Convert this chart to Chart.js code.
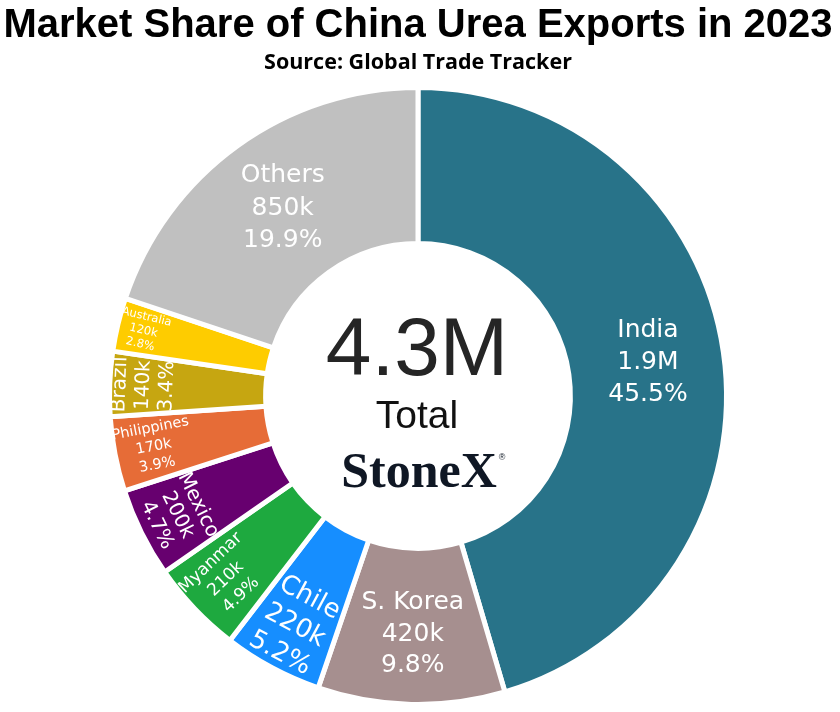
<!DOCTYPE html>
<html><head><meta charset="utf-8">
<script src="https://cdn.jsdelivr.net/npm/chart.js@4/dist/chart.umd.min.js"></script>
<style>html,body{margin:0;padding:0;background:#fff;overflow:hidden}#wrap{width:840px;height:712px;position:relative}</style>
</head><body><div id="wrap"><canvas id="c" width="840" height="712"></canvas></div>
<script>
// ---- data ----
const categories = ['India','S. Korea','Chile','Myanmar','Mexico','Philippines','Brazil','Australia','Others'];
const sharePct = [45.5, 9.8, 5.2, 4.9, 4.7, 3.9, 3.4, 2.8, 19.9];
const volumeLabels = ['1.9M','420k','220k','210k','200k','170k','140k','120k','850k'];
const totalLabel = '4.3M';
const totalCaption = 'Total';
const brandText = 'StoneX';
const titleText = 'Market Share of China Urea Exports in 2023';
const subtitleText = 'Source: Global Trade Tracker';

// ---- styles ----
const sliceColors = ['#287389','#a68f8f','#168eff','#1ea93f','#67006f','#e66c37','#c6a611','#fecc00','#c0c0c0'];
// size: font px, gap: line spacing px, rf: label radius fraction of outer radius, rot: rotation mode
const labelStyle = [
  {size:25, gap:32, rf:0.753, rot:'none'},
  {size:25, gap:31.5, rf:0.772, rot:'none'},
  {size:26, gap:31.5, rf:0.845, rot:'in'},
  {size:17, gap:22, rf:0.86, rot:'radial'},
  {size:20, gap:23, rf:0.87, rot:'in'},
  {size:14.5, gap:18.5, rf:0.872, rot:'radial'},
  {size:20, gap:23.5, rf:0.89, rot:'out'},
  {size:11.5, gap:14, rf:0.915, rot:'radial'},
  {size:25, gap:32.5, rf:0.75, rot:'none'}
];

const sliceLabels = {
  id:'sliceLabels',
  afterDatasetsDraw(chart){
    const ctx = chart.ctx;
    const meta = chart.getDatasetMeta(0);
    meta.data.forEach((arc, i) => {
      const p = arc.getProps(['x','y','startAngle','endAngle','outerRadius'], true);
      const mid = (p.startAngle + p.endAngle) / 2;
      const st = labelStyle[i];
      const r = p.outerRadius * st.rf;
      const px = p.x + Math.cos(mid) * r;
      const py = p.y + Math.sin(mid) * r;
      const theta = mid + Math.PI / 2;
      let rot = 0;
      if (st.rot === 'in') rot = theta - Math.PI;
      else if (st.rot === 'radial') rot = theta - 1.5 * Math.PI;
      else if (st.rot === 'out') rot = theta;
      const lines = [categories[i], volumeLabels[i], sharePct[i].toFixed(1) + '%'];
      ctx.save();
      ctx.translate(px, py);
      ctx.rotate(rot);
      ctx.fillStyle = '#ffffff';
      ctx.textAlign = 'center';
      ctx.textBaseline = 'middle';
      ctx.font = st.size + 'px "DejaVu Sans"';
      lines.forEach((t, k) => ctx.fillText(t, 0, (k - 1) * st.gap));
      ctx.restore();
    });
  }
};

const centerText = {
  id:'centerText',
  afterDraw(chart){
    const ctx = chart.ctx;
    const a = chart.chartArea;
    const cx = (a.left + a.right) / 2;
    const cy = (a.top + a.bottom) / 2;
    ctx.save();
    ctx.textAlign = 'center';
    ctx.textBaseline = 'alphabetic';
    ctx.fillStyle = '#252525';
    ctx.font = '82px "Liberation Sans"';
    ctx.fillText(totalLabel, cx - 1, cy - 21);
    ctx.fillStyle = '#111111';
    ctx.font = '39px "Liberation Sans"';
    ctx.fillText(totalCaption, cx - 1, cy + 32);
    ctx.fillStyle = '#0f1724';
    ctx.font = 'bold 50px "Liberation Serif"';
    ctx.fillText(brandText, cx + 1, cy + 91);
    const w = ctx.measureText(brandText).width;
    ctx.font = '9px "Liberation Sans"';
    ctx.textAlign = 'left';
    ctx.fillText('\u00AE', cx + 1 + w / 2 + 2, cy + 64);
    ctx.restore();
  }
};

new Chart(document.getElementById('c'), {
  type:'doughnut',
  data:{
    labels: categories,
    datasets:[{
      data: sharePct,
      backgroundColor: sliceColors,
      borderColor:'#ffffff',
      borderWidth:5,
      hoverOffset:0
    }]
  },
  options:{
    responsive:false,
    animation:false,
    radius:308.5,
    cutout:'49.4%',
    layout:{padding:{left:0,right:4,top:0,bottom:0}},
    plugins:{
      legend:{display:false},
      tooltip:{enabled:false},
      title:{display:true,text:titleText,color:'#000000',
        font:{family:'"Liberation Sans"',size:40,weight:'bold',lineHeight:1},
        padding:{top:6,bottom:6.4}},
      subtitle:{display:true,text:subtitleText,color:'#000000',
        font:{family:'"Open Sans"',size:21.5,weight:'bold',lineHeight:1},
        padding:{top:0,bottom:6.1}}
    }
  },
  plugins:[sliceLabels, centerText]
});
</script>
</body></html>
